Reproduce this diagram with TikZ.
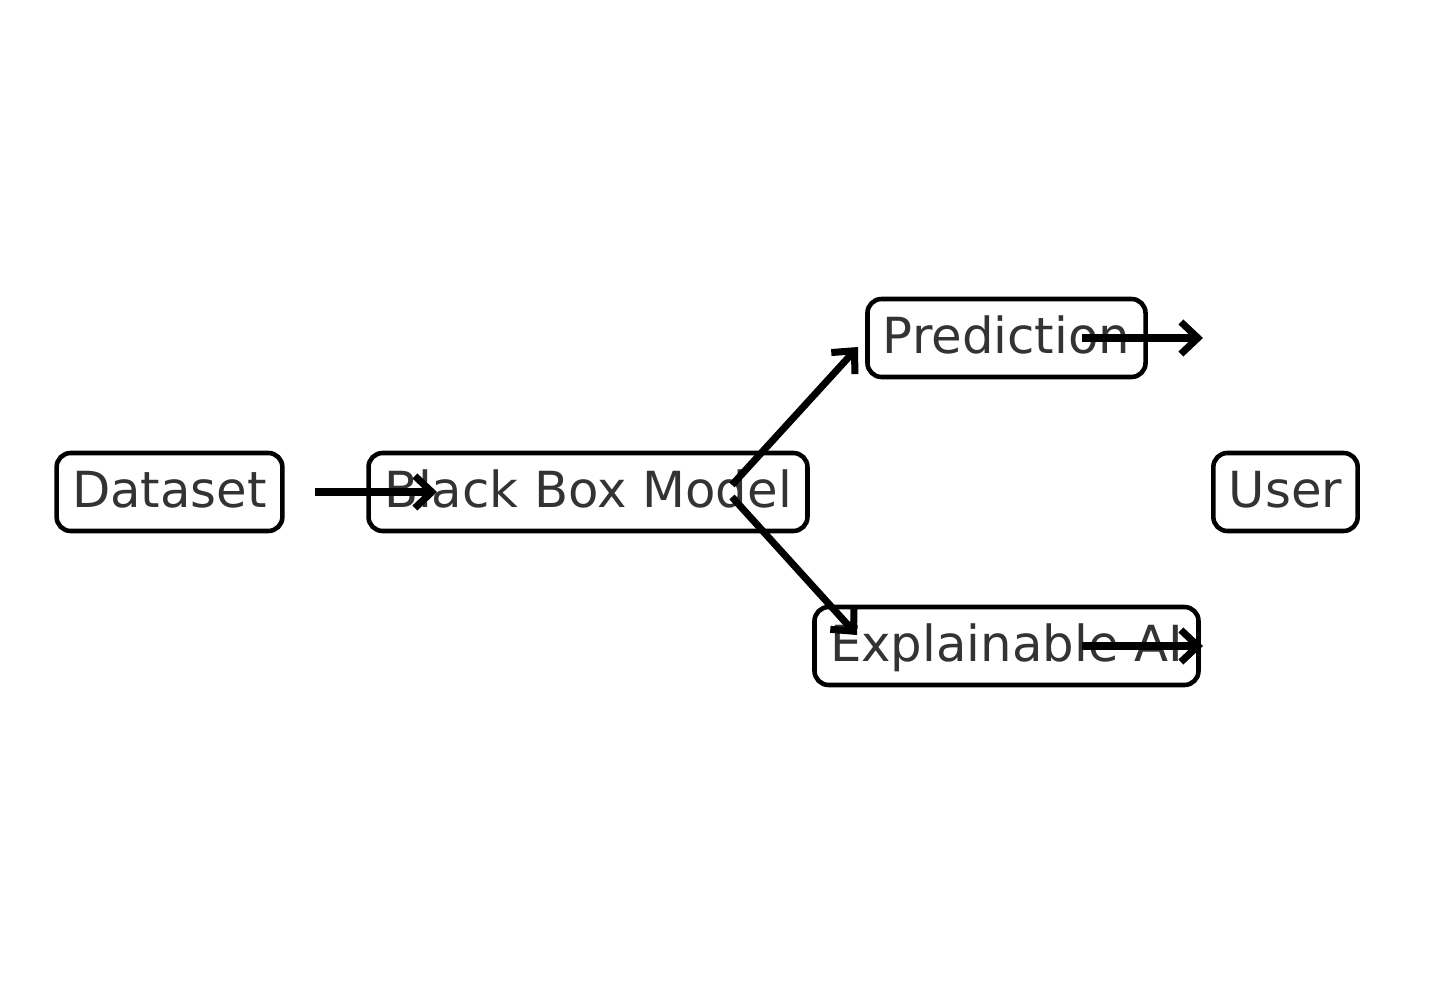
\documentclass[tikz,border=0pt]{standalone}
\usepackage{fontspec}
\setmainfont{DejaVu Sans}
\usetikzlibrary{
    arrows.meta,
    positioning
}
\definecolor{ink}{RGB}{51,51,51}
\definecolor{frame}{RGB}{0,0,0}
\tikzset{
    line cap=round,
    line join=round,
    stagebox/.style={
        rectangle,
        draw=frame,
        line width=1.3pt,
        rounded corners=4pt,
        fill=white,
        text=ink,
        inner xsep=0.155cm,
        minimum height=0.78cm,
        text height=0.32cm,
        text depth=0cm,
        font=\fontsize{14.15}{16}\selectfont
    },
    flowarrow/.style={
        -{Straight Barb[length=1.7mm,width=3.2mm]},
        draw=frame,
        line width=2pt
    }
}

\begin{document}
\begin{tikzpicture}
\useasboundingbox (0,0) rectangle (14.55,9.84);

% Stages
\node[stagebox] (dataset) at (1.695, 4.92) {Dataset};
\node[stagebox] (model) at (5.88, 4.92) {Black Box Model};
\node[stagebox] (prediction) at (10.065, 6.46) {Prediction};
\node[stagebox] (xai) at (10.065, 3.38) {Explainable AI};
\node[stagebox] (user) at (12.855, 4.92) {User};

% Arrow ends
\coordinate (dataset-out) at (3.15, 4.92);
\coordinate (model-in) at (4.37, 4.92);
\coordinate (model-up) at (7.32, 4.99);
\coordinate (prediction-in) at (8.58, 6.37);
\coordinate (model-down) at (7.32, 4.87);
\coordinate (xai-in) at (8.57, 3.49);
\coordinate (prediction-out) at (10.82, 6.46);
\coordinate (prediction-end) at (12.03, 6.46);
\coordinate (xai-out) at (10.82, 3.38);
\coordinate (xai-end) at (12.03, 3.38);

% Flow
\draw[flowarrow] (dataset-out) -- (model-in);
\draw[flowarrow] (model-up) -- (prediction-in);
\draw[flowarrow] (model-down) -- (xai-in);
\draw[flowarrow] (prediction-out) -- (prediction-end);
\draw[flowarrow] (xai-out) -- (xai-end);
\end{tikzpicture}
\end{document}
